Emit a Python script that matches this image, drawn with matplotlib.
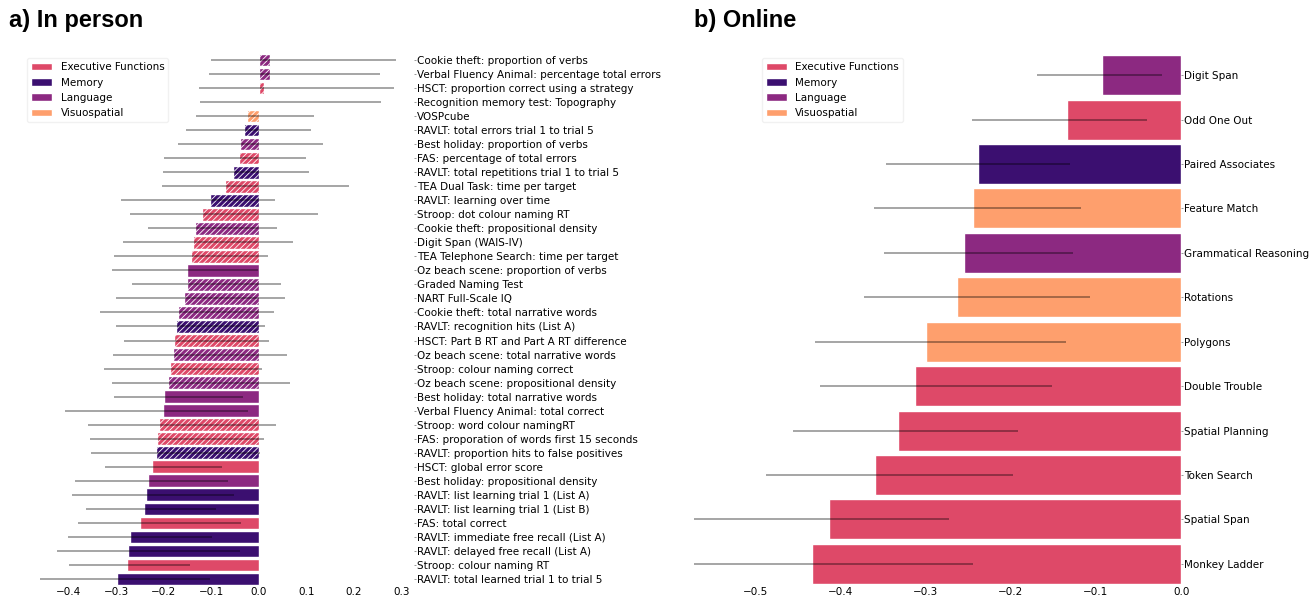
import matplotlib
matplotlib.use("Agg")
import matplotlib.pyplot as plt
from matplotlib.patches import Patch
import numpy as np

plt.rcParams["font.family"] = ["DejaVu Sans"]
plt.rcParams["font.size"] = 7.5
plt.rcParams["hatch.linewidth"] = 0.6

# Cognitive domains and their colours (magma)
domains = ["Executive Functions", "Memory", "Language", "Visuospatial"]
domain_colors = dict(zip(["E", "M", "L", "V"], plt.cm.magma([0.6, 0.2, 0.4, 0.8])))

# a) In-person tests: effect estimate with lower/upper interval
person_labels = [
    "Cookie theft: proportion of verbs",
    "Verbal Fluency Animal: percentage total errors",
    "HSCT: proportion correct using a strategy",
    "Recognition memory test: Topography",
    "VOSPcube",
    "RAVLT: total errors trial 1 to trial 5",
    "Best holiday: proportion of verbs",
    "FAS: percentage of total errors",
    "RAVLT: total repetitions trial 1 to trial 5",
    "TEA Dual Task: time per target",
    "RAVLT: learning over time",
    "Stroop: dot colour naming RT",
    "Cookie theft: propositional density",
    "Digit Span (WAIS-IV)",
    "TEA Telephone Search: time per target",
    "Oz beach scene: proportion of verbs",
    "Graded Naming Test",
    "NART Full-Scale IQ",
    "Cookie theft: total narrative words",
    "RAVLT: recognition hits (List A)",
    "HSCT: Part B RT and Part A RT difference",
    "Oz beach scene: total narrative words",
    "Stroop: colour naming correct",
    "Oz beach scene: propositional density",
    "Best holiday: total narrative words",
    "Verbal Fluency Animal: total correct",
    "Stroop: word colour namingRT",
    "FAS: proporation of words first 15 seconds",
    "RAVLT: proportion hits to false positives",
    "HSCT: global error score",
    "Best holiday: propositional density",
    "RAVLT: list learning trial 1 (List A)",
    "RAVLT: list learning trial 1 (List B)",
    "FAS: total correct",
    "RAVLT: immediate free recall (List A)",
    "RAVLT: delayed free recall (List A)",
    "Stroop: colour naming RT",
    "RAVLT: total learned trial 1 to trial 5",
]
person_domain = list("LLEMVMLEMEMELEELLLLMELELLLEEMELMMEMMEM")
person_est = [0.023, 0.023, 0.010, 0.001, -0.026, -0.031, -0.040, -0.042, -0.055, -0.072,
              -0.103, -0.120, -0.135, -0.139, -0.143, -0.152, -0.152, -0.157, -0.170, -0.175,
              -0.179, -0.181, -0.187, -0.191, -0.199, -0.202, -0.210, -0.214, -0.217, -0.225,
              -0.233, -0.238, -0.241, -0.251, -0.271, -0.275, -0.277, -0.299]
person_lo = [-0.101, -0.105, -0.126, -0.124, -0.132, -0.154, -0.171, -0.200, -0.202, -0.205,
             -0.291, -0.271, -0.234, -0.286, -0.305, -0.309, -0.268, -0.300, -0.334, -0.300,
             -0.284, -0.307, -0.327, -0.309, -0.305, -0.409, -0.360, -0.356, -0.354, -0.324,
             -0.387, -0.393, -0.363, -0.381, -0.401, -0.425, -0.399, -0.461]
person_hi = [0.288, 0.255, 0.285, 0.257, 0.115, 0.109, 0.135, 0.099, 0.105, 0.190,
             0.034, 0.124, 0.038, 0.071, 0.020, -0.002, 0.046, 0.054, 0.031, 0.012,
             0.021, 0.059, 0.006, 0.066, -0.034, -0.022, 0.036, 0.011, 0.003, -0.078,
             -0.065, -0.053, -0.091, -0.038, -0.098, -0.040, -0.144, -0.104]

# b) Online tests
online_labels = ["Digit Span", "Odd One Out", "Paired Associates", "Feature Match",
                 "Grammatical Reasoning", "Rotations", "Polygons", "Double Trouble",
                 "Spatial Planning", "Token Search", "Spatial Span", "Monkey Ladder"]
online_domain = list("LEMVLVVEEEEE")
online_est = [-0.093, -0.134, -0.239, -0.244, -0.255, -0.263, -0.300, -0.312,
              -0.332, -0.359, -0.414, -0.434]
online_lo = [-0.169, -0.246, -0.346, -0.361, -0.349, -0.372, -0.430, -0.424,
             -0.456, -0.487, -0.580, -0.590]
online_hi = [-0.022, -0.040, -0.131, -0.118, -0.127, -0.107, -0.135, -0.152,
             -0.191, -0.197, -0.273, -0.244]


def draw_panel(ax, labels, dom, est, lo, hi):
    y = np.arange(len(labels))
    lo = np.array(lo)
    hi = np.array(hi)
    # intervals that cross zero get hatched bars
    hatches = ["//////" if (a < 0 < b) else None for a, b in zip(lo, hi)]
    colors = [domain_colors[d] for d in dom]
    bars = ax.barh(y, est, height=0.9, color=colors, edgecolor="white", linewidth=1)
    for bar, h in zip(bars, hatches):
        if h:
            bar.set_hatch(h)
    ax.hlines(y, lo, hi, color="black", alpha=0.45, linewidth=1.1, zorder=3)
    ax.set_yticks(y)
    ax.set_yticklabels(labels)
    ax.yaxis.tick_right()
    ax.set_ylim(len(labels) - 0.5, -0.5)
    for s in ax.spines.values():
        s.set_visible(False)
    ax.tick_params(axis="y", length=1.2, width=0.6, pad=1, color="#888888")
    ax.tick_params(axis="x", length=0, pad=1)


handles = [Patch(facecolor=domain_colors[k], edgecolor="white", label=n)
           for k, n in zip(["E", "M", "L", "V"], domains)]

fig = plt.figure(figsize=(13.11, 5.98), dpi=100)

ax1 = fig.add_axes([0.0168, 0.0201, 0.2987, 0.8913])
draw_panel(ax1, person_labels, person_domain, person_est, person_lo, person_hi)
ax1.set_xlim(-0.4985, 0.3255)
ax1.set_xticks(np.arange(-0.4, 0.31, 0.1))
ax1.legend(handles=handles, loc="upper left", edgecolor="#eeeeee")

ax2 = fig.add_axes([0.5294, 0.0201, 0.3715, 0.8913])
draw_panel(ax2, online_labels, online_domain, online_est, online_lo, online_hi)
ax2.set_xlim(-0.572, 0)
ax2.set_xticks(np.arange(-0.5, 0.01, 0.1))
ax2.legend(handles=handles, loc="upper left", bbox_to_anchor=(0.129, 1.0), edgecolor="#eeeeee")

title_font = dict(fontsize=17, fontweight="bold", family=["Liberation Sans", "DejaVu Sans"], va="top")
fig.text(0.007, 0.985, "a) In person", **title_font)
fig.text(0.529, 0.985, "b) Online", **title_font)

fig.savefig("out.png", dpi=100)
